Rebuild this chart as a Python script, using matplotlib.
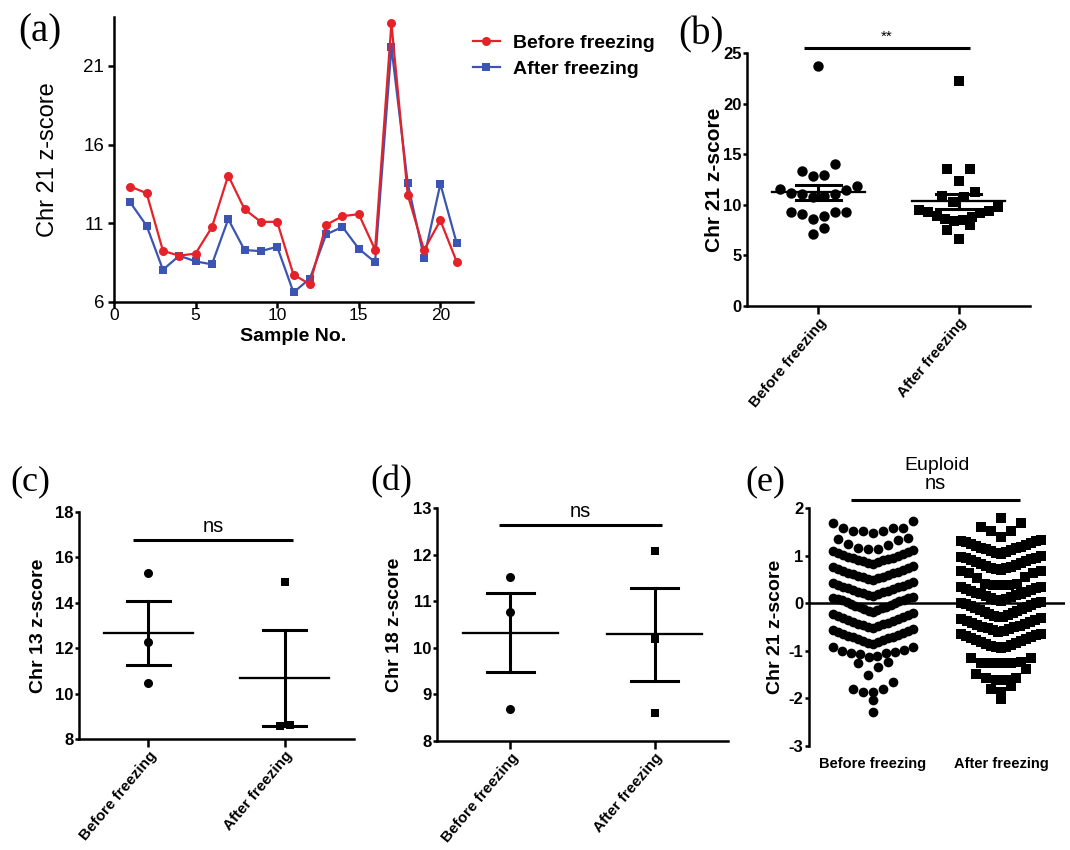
"""Chr z-score comparison before / after freezing (panels a-e)."""

import numpy as np
import matplotlib
matplotlib.use("Agg")
import matplotlib.pyplot as plt

plt.rcParams["axes.unicode_minus"] = False

SERIF = ["Liberation Serif", "DejaVu Serif"]
SANS = ["Liberation Sans", "DejaVu Sans"]

RED = "#e4222a"
BLUE = "#3d55b2"

# ---- data -------------------------------------------------------------
groups = ["Before freezing", "After freezing"]
samples = [1, 2, 3, 4, 5, 6, 7, 8, 9, 10, 11, 12, 13, 14, 15, 16, 17, 18, 19, 20, 21]
before_21 = [13.33, 12.91, 9.25, 8.94, 9.08, 10.75, 14.03, 11.89, 11.09, 11.09, 7.73,
             7.14, 10.90, 11.45, 11.58, 9.32, 23.70, 12.80, 9.30, 11.18, 8.56]
after_21 = [12.32, 10.84, 8.05, 8.94, 8.58, 8.39, 11.26, 9.30, 9.23, 9.51, 6.61,
            7.48, 10.29, 10.77, 9.38, 8.53, 22.20, 13.54, 8.79, 13.50, 9.74]

before_13 = [15.31, 12.26, 10.47]
after_13 = [14.92, 8.56, 8.60]
before_18 = [11.51, 10.77, 8.69]
after_18 = [12.07, 10.18, 8.61]

# euploid samples, chr 21 z-scores (read row by row from the swarm)
euploid_before = [
    1.48, 1.51, 1.51, 1.52, 1.57, 1.58, 1.59, 1.68, 1.73,
    1.14, 1.14, 1.15, 1.23, 1.24, 1.33, 1.34, 1.38,
    0.83, 0.85, 0.86, 0.88, 0.90, 0.91, 0.93, 0.95, 0.96, 0.98, 1.00, 1.01, 1.03, 1.05, 1.07, 1.09, 1.11,
    0.49, 0.50, 0.52, 0.54, 0.56, 0.57, 0.59, 0.61, 0.63, 0.64, 0.66, 0.68, 0.70, 0.72, 0.74, 0.76, 0.78,
    0.15, 0.17, 0.19, 0.21, 0.23, 0.24, 0.26, 0.28, 0.30, 0.31, 0.33, 0.35, 0.37, 0.39, 0.41, 0.43, 0.45,
    -0.19, -0.17, -0.15, -0.13, -0.11, -0.09, -0.07, -0.05, -0.03, -0.01, 0.01, 0.03, 0.04, 0.06,
    0.07, 0.08, 0.10, 0.11, 0.12,
    -0.52, -0.50, -0.48, -0.46, -0.44, -0.43, -0.41, -0.39, -0.37, -0.35, -0.33, -0.31, -0.29,
    -0.27, -0.25, -0.23, -0.21,
    -0.86, -0.84, -0.82, -0.80, -0.78, -0.76, -0.74, -0.72, -0.70, -0.68, -0.66, -0.64, -0.62,
    -0.60, -0.58, -0.56, -0.54,
    -0.91, -0.92, -0.99, -1.00, -1.03, -1.05, -1.05, -1.06, -1.10, -1.12,
    -1.24, -1.26, -1.33, -1.51, -1.66, -1.81, -1.81, -1.86, -1.87, -2.04, -2.28,
]
euploid_after = [
    1.40, 1.51, 1.51, 1.61, 1.69, 1.79,
    1.04, 1.06, 1.08, 1.09, 1.11, 1.13, 1.15, 1.17, 1.19, 1.20, 1.22, 1.24, 1.26, 1.28, 1.30, 1.31, 1.33,
    0.70, 0.72, 0.74, 0.75, 0.77, 0.79, 0.81, 0.83, 0.85, 0.86, 0.88, 0.90, 0.92, 0.94, 0.96, 0.97, 1.00,
    0.38, 0.39, 0.39, 0.41, 0.41, 0.53, 0.56, 0.63, 0.63, 0.67, 0.68,
    0.05, 0.07, 0.09, 0.11, 0.13, 0.15, 0.17, 0.19, 0.20, 0.22, 0.24, 0.26, 0.28, 0.30, 0.32, 0.33, 0.35,
    -0.28, -0.26, -0.24, -0.22, -0.20, -0.18, -0.16, -0.14, -0.12, -0.10, -0.08, -0.06, -0.04,
    -0.02, 0.00, 0.01, 0.02,
    -0.61, -0.59, -0.57, -0.55, -0.53, -0.51, -0.49, -0.47, -0.45, -0.43, -0.41, -0.39, -0.37,
    -0.35, -0.33, -0.31, -0.30,
    -0.95, -0.93, -0.91, -0.89, -0.87, -0.85, -0.83, -0.81, -0.79, -0.77, -0.75, -0.73, -0.71,
    -0.69, -0.67, -0.65, -0.64,
    -1.16, -1.16, -1.24, -1.26, -1.26, -1.26, -1.26,
    -1.39, -1.49, -1.58, -1.58, -1.61, -1.61, -1.74, -1.81, -1.86, -2.02,
]


def swarm_offsets(values, bin_w, origin, step, half_w):
    """GraphPad-like scatter: bin values into rows, lowest values in the middle."""
    vals = np.asarray(values, float)
    xs = np.zeros(len(vals))
    bins = np.floor((vals - origin) / bin_w).astype(int)
    for b in np.unique(bins):
        idx = np.where(bins == b)[0]
        idx = idx[np.argsort(vals[idx], kind="stable")]
        n = len(idx)
        if n == 1:
            continue
        s = min(step, 2 * half_w / (n - 1))
        slots = (np.arange(n) - (n - 1) / 2) * s
        order = np.argsort(np.abs(slots) + 1e-9 * np.arange(n), kind="stable")
        xs[idx] = slots[order]
    return xs


def style_axes(ax, lw=1.8):
    for side in ("top", "right"):
        ax.spines[side].set_visible(False)
    for side in ("left", "bottom"):
        ax.spines[side].set_linewidth(lw)
    ax.tick_params(width=lw, direction="out")
    ax.tick_params(axis="y", length=3, pad=1)


def mean_sem(ax, x, vals, mean_hw=0.33, cap_hw=0.16, lw=2.2):
    vals = np.asarray(vals, float)
    m = vals.mean()
    sem = vals.std(ddof=1) / np.sqrt(len(vals))
    ax.plot([x - mean_hw, x + mean_hw], [m, m], color="black", lw=lw * 0.75, zorder=4)
    ax.plot([x, x], [m - sem, m + sem], color="black", lw=lw, zorder=4)
    for y in (m - sem, m + sem):
        ax.plot([x - cap_hw, x + cap_hw], [y, y], color="black", lw=lw, zorder=4)


def sig_bar(ax, x0, x1, y, text, ty, size=14.5, lw=2.2):
    ax.plot([x0, x1], [y, y], color="black", lw=lw, clip_on=False, solid_capstyle="butt")
    ax.text((x0 + x1) / 2, ty, text, ha="center", va="center", fontsize=size,
            family=SANS, clip_on=False)


def bold_yticks(ax, size=12):
    for lab in ax.get_yticklabels():
        lab.set_fontweight("bold")
        lab.set_family(SANS)
        lab.set_fontsize(size)


def dot_panel(ax, before, after, bin_w, origin, step, half_w, ms_c, ms_s):
    xb = swarm_offsets(before, bin_w, origin, step, half_w)
    xa = swarm_offsets(after, bin_w, origin, step, half_w)
    ax.plot(0 + xb, before, "o", color="black", ms=ms_c, mew=0, zorder=3, clip_on=False)
    ax.plot(1 + xa, after, "s", color="black", ms=ms_s, mew=0, zorder=3, clip_on=False)
    mean_sem(ax, 0, before)
    mean_sem(ax, 1, after)
    ax.set_xlim(-0.51, 1.51)
    ax.set_xticks([0, 1])
    ax.set_xticklabels(groups, rotation=50, ha="right", rotation_mode="anchor",
                       fontsize=11, fontweight="bold", family=SANS)
    ax.tick_params(axis="x", length=6, pad=1)


W, H = 1070, 850
fig = plt.figure(figsize=(W / 100, H / 100), dpi=100)


def add_axes(left, top, right, bottom):
    return fig.add_axes([left / W, 1 - bottom / H, (right - left) / W, (bottom - top) / H])


# ---- (a) line plot ------------------------------------------------------
ax = add_axes(114, 17, 473, 302)
ax.plot(samples, before_21, "-o", color=RED, lw=1.6, ms=6.5, mew=0, label="Before freezing",
        clip_on=False, zorder=3)
ax.plot(samples, after_21, "-s", color=BLUE, lw=1.6, ms=6, mew=0, label="After freezing",
        clip_on=False, zorder=2)
ax.set_xlim(0, 22)
ax.set_ylim(6, 24.1)
ax.set_xticks([0, 5, 10, 15, 20])
ax.set_yticks([6, 11, 16, 21])
style_axes(ax)
ax.tick_params(labelsize=13.5, length=4)
ax.tick_params(axis="x", pad=0.5, labelsize=12.5)
ax.tick_params(axis="y", pad=3)
for lab in ax.get_xticklabels() + ax.get_yticklabels():
    lab.set_family(SANS)
ax.set_ylabel("Chr 21 z-score", fontsize=17, family=SANS)
ax.yaxis.set_label_coords(-0.153, 0.5)
ax.set_xlabel("Sample No.", fontsize=14, fontweight="bold", family=SANS)
ax.xaxis.set_label_coords(0.5, -0.09)
fig.legend(loc="upper left", bbox_to_anchor=(455 / W, 1 - 17 / H), frameon=False,
           prop={"family": SANS, "weight": "bold", "size": 14}, handlelength=1.4,
           handletextpad=0.67, labelspacing=0.4)

# ---- (b) chr21 scatter ----------------------------------------------------
ax = add_axes(747, 53, 1030, 306)
style_axes(ax)
dot_panel(ax, before_21, after_21, 2.0, 6.1, 0.079, 0.28, 7.5, 7)
ax.set_ylim(0, 25)
ax.set_yticks([0, 5, 10, 15, 20, 25])
bold_yticks(ax)
ax.set_ylabel("Chr 21 z-score", fontsize=15, fontweight="bold", family=SANS)
ax.yaxis.set_label_coords(-0.081, 0.5)
sig_bar(ax, -0.1, 1.08, 25.5, "**", 26.6, size=11)

# ---- (c) chr13 ------------------------------------------------------------
ax = add_axes(79, 512, 354, 739)
style_axes(ax)
dot_panel(ax, before_13, after_13, 0.5, 8.0, 0.074, 0.3, 6.5, 6)
ax.set_ylim(8, 18)
ax.set_yticks([8, 10, 12, 14, 16, 18])
bold_yticks(ax)
ax.set_ylabel("Chr 13 z-score", fontsize=14, fontweight="bold", family=SANS)
ax.yaxis.set_label_coords(-0.116, 0.5)
sig_bar(ax, -0.11, 1.06, 16.75, "ns", 17.35)

# ---- (d) chr18 ------------------------------------------------------------
ax = add_axes(437, 508, 728, 741)
style_axes(ax)
dot_panel(ax, before_18, after_18, 0.3, 8.0, 0.07, 0.3, 6.5, 6)
ax.set_ylim(8, 13)
ax.set_yticks([8, 9, 10, 11, 12, 13])
bold_yticks(ax)
ax.set_ylabel("Chr 18 z-score", fontsize=14, fontweight="bold", family=SANS)
ax.yaxis.set_label_coords(-0.117, 0.5)
sig_bar(ax, -0.08, 1.05, 12.63, "ns", 12.92)

# ---- (e) euploid ----------------------------------------------------------
ax = add_axes(809, 508, 1065, 746)
style_axes(ax)
ax.spines["bottom"].set_visible(False)
ax.axhline(0, color="black", lw=1.8, zorder=1)
xb = swarm_offsets(euploid_before, 1 / 3, 0.13, 0.078, 0.31)
xa = swarm_offsets(euploid_after, 1 / 3, 0.03, 0.078, 0.31)
ax.plot(0 + xb, euploid_before, "o", color="black", ms=7, mew=0, zorder=3)
ax.plot(1 + xa, euploid_after, "s", color="black", ms=6.5, mew=0, zorder=3)
ax.set_xlim(-0.5, 1.5)
ax.set_ylim(-3, 2)
ax.set_yticks([-3, -2, -1, 0, 1, 2])
ax.set_xticks([0, 1])
ax.set_xticklabels(groups, fontsize=10.5, fontweight="bold", family=SANS)
ax.tick_params(axis="x", length=0, pad=8)
bold_yticks(ax)
ax.set_ylabel("Chr 21 z-score", fontsize=14, fontweight="bold", family=SANS)
ax.yaxis.set_label_coords(-0.098, 0.5)
sig_bar(ax, -0.17, 1.15, 2.16, "ns", 2.52)
ax.text(0.5, 2.9, "Euploid", ha="center", va="center", fontsize=14, family=SANS, clip_on=False)

# ---- panel letters ----------------------------------------------------------
for label, x, y, size in [("(a)", 18, 32, 28), ("(b)", 678, 35, 28), ("(c)", 10, 482, 26),
                          ("(d)", 370, 482, 26), ("(e)", 745, 482, 26)]:
    fig.text(x / W, 1 - y / H, label, family=SERIF, fontsize=size, va="center", ha="left")

fig.savefig("out.png", dpi=100)
plt.close(fig)
